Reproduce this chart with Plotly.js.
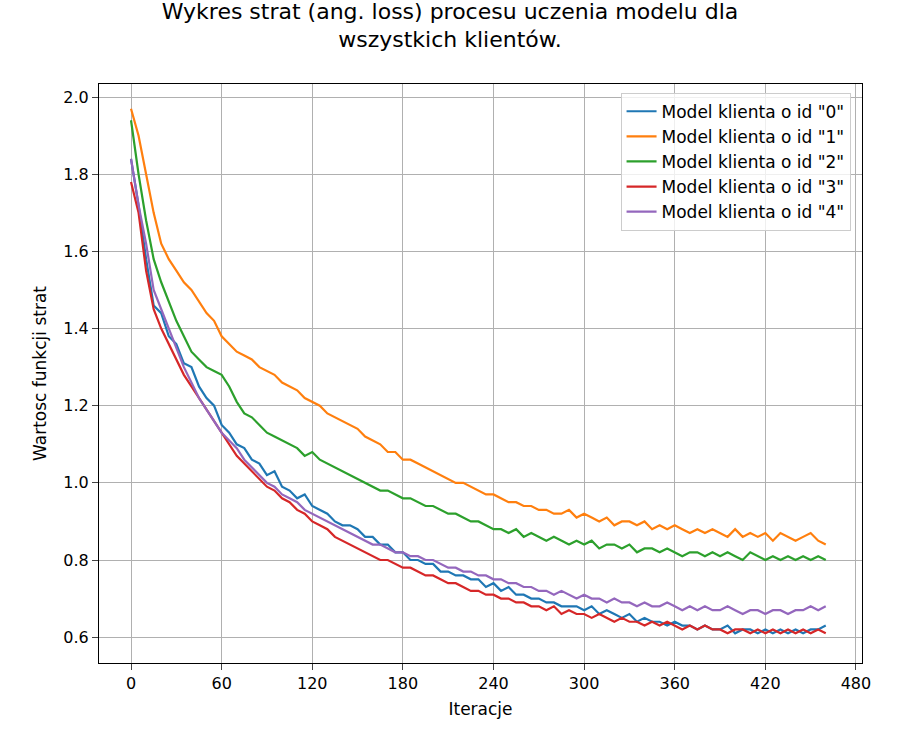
<html><head><script src="https://cdn.plot.ly/plotly-3.0.1.min.js"></script></head><body style="margin:0">
<div id="c" style="width:900px;height:750px"></div>
<script>
const step = 5;
const names = ['Model klienta o id "0"','Model klienta o id "1"','Model klienta o id "2"','Model klienta o id "3"','Model klienta o id "4"'];
const colors = ['#1f77b4','#ff7f0e','#2ca02c','#d62728','#9467bd'];
const loss0 = [1.84,1.72,1.58,1.46,1.44,1.38,1.36,1.31,1.30,1.25,1.22,1.20,1.15,1.13,1.10,1.09,1.06,1.05,1.02,1.03,0.99,0.98,0.96,0.97,0.94,0.93,0.92,0.90,0.89,0.89,0.88,0.86,0.86,0.84,0.84,0.82,0.82,0.80,0.80,0.79,0.79,0.77,0.77,0.76,0.76,0.75,0.75,0.73,0.74,0.72,0.73,0.71,0.71,0.70,0.70,0.69,0.69,0.68,0.68,0.68,0.67,0.68,0.66,0.67,0.66,0.65,0.66,0.64,0.65,0.64,0.64,0.63,0.64,0.63,0.63,0.62,0.63,0.62,0.62,0.63,0.61,0.62,0.62,0.61,0.62,0.61,0.62,0.61,0.62,0.61,0.62,0.62,0.63];
const loss1 = [1.97,1.90,1.80,1.70,1.62,1.58,1.55,1.52,1.50,1.47,1.44,1.42,1.38,1.36,1.34,1.33,1.32,1.30,1.29,1.28,1.26,1.25,1.24,1.22,1.21,1.20,1.18,1.17,1.16,1.15,1.14,1.12,1.11,1.10,1.08,1.08,1.06,1.06,1.05,1.04,1.03,1.02,1.01,1.00,1.00,0.99,0.98,0.97,0.97,0.96,0.95,0.95,0.94,0.94,0.93,0.93,0.92,0.92,0.93,0.91,0.92,0.91,0.90,0.91,0.89,0.90,0.90,0.89,0.90,0.88,0.89,0.88,0.89,0.88,0.87,0.88,0.87,0.88,0.87,0.86,0.88,0.86,0.87,0.86,0.87,0.85,0.87,0.86,0.85,0.86,0.87,0.85,0.84];
const loss2 = [1.94,1.80,1.68,1.58,1.52,1.47,1.42,1.38,1.34,1.32,1.30,1.29,1.28,1.25,1.21,1.18,1.17,1.15,1.13,1.12,1.11,1.10,1.09,1.07,1.08,1.06,1.05,1.04,1.03,1.02,1.01,1.00,0.99,0.98,0.98,0.97,0.96,0.96,0.95,0.94,0.94,0.93,0.92,0.92,0.91,0.90,0.90,0.89,0.88,0.88,0.87,0.88,0.86,0.87,0.86,0.85,0.86,0.85,0.84,0.85,0.84,0.85,0.83,0.84,0.84,0.83,0.84,0.82,0.83,0.83,0.82,0.83,0.82,0.81,0.82,0.82,0.81,0.82,0.81,0.82,0.81,0.80,0.82,0.81,0.80,0.81,0.80,0.81,0.80,0.81,0.80,0.81,0.80];
const loss3 = [1.78,1.70,1.55,1.45,1.40,1.36,1.32,1.28,1.25,1.22,1.19,1.16,1.13,1.10,1.07,1.05,1.03,1.01,0.99,0.98,0.96,0.95,0.93,0.92,0.90,0.89,0.88,0.86,0.85,0.84,0.83,0.82,0.81,0.80,0.80,0.79,0.78,0.78,0.77,0.76,0.76,0.75,0.74,0.74,0.73,0.72,0.72,0.71,0.71,0.70,0.70,0.69,0.69,0.68,0.68,0.67,0.68,0.66,0.67,0.66,0.66,0.65,0.66,0.65,0.64,0.65,0.64,0.64,0.63,0.64,0.63,0.64,0.63,0.62,0.63,0.62,0.63,0.62,0.62,0.61,0.62,0.62,0.61,0.62,0.61,0.62,0.61,0.62,0.61,0.62,0.61,0.62,0.61];
const loss4 = [1.84,1.72,1.62,1.50,1.45,1.40,1.35,1.30,1.26,1.22,1.19,1.16,1.13,1.11,1.09,1.06,1.04,1.02,1.00,0.99,0.97,0.96,0.95,0.93,0.92,0.91,0.90,0.89,0.88,0.87,0.86,0.85,0.84,0.84,0.83,0.82,0.82,0.81,0.81,0.80,0.80,0.79,0.78,0.78,0.77,0.77,0.76,0.76,0.75,0.75,0.74,0.74,0.73,0.73,0.72,0.72,0.71,0.72,0.71,0.70,0.71,0.70,0.70,0.69,0.70,0.69,0.69,0.68,0.69,0.68,0.68,0.69,0.68,0.67,0.68,0.67,0.68,0.67,0.67,0.68,0.67,0.66,0.67,0.67,0.66,0.67,0.67,0.66,0.67,0.67,0.68,0.67,0.68];
const series = [loss0,loss1,loss2,loss3,loss4];
const traces = series.map((s,k)=>({x:s.map((_,i)=>i*step), y:s, mode:'lines', name:names[k], line:{color:colors[k],width:2.2}}));
const ax = {showline:true,mirror:true,linecolor:'black',linewidth:1.2,ticks:'outside',ticklen:6,gridcolor:'#b0b0b0',zeroline:false,tickfont:{size:16,color:'black'}};
Plotly.newPlot('c',traces,{
  width:900,height:750,paper_bgcolor:'white',plot_bgcolor:'white',
  font:{family:'DejaVu Sans',color:'black'},
  margin:{l:99,r:38,t:84,b:87},
  title:{text:'Wykres strat (ang. loss) procesu uczenia modelu dla<br>wszystkich klientów.',font:{size:22},x:0.5,xanchor:'center',y:0.975,yanchor:'top'},
  xaxis:Object.assign({},ax,{range:[-21.2,484],tickvals:[0,60,120,180,240,300,360,420,480],title:{text:'Iteracje',font:{size:17},standoff:10}}),
  yaxis:Object.assign({},ax,{range:[0.533,2.034],tickvals:[0.6,0.8,1.0,1.2,1.4,1.6,1.8,2.0],tickformat:'.1f',title:{text:'Wartosc funkcji strat',font:{size:17},standoff:12}}),
  legend:{x:0.985,y:0.985,xanchor:'right',yanchor:'top',bordercolor:'#ccc',borderwidth:1,bgcolor:'rgba(255,255,255,0.8)',font:{size:17}},
},{displayModeBar:false});
</script></body></html>
